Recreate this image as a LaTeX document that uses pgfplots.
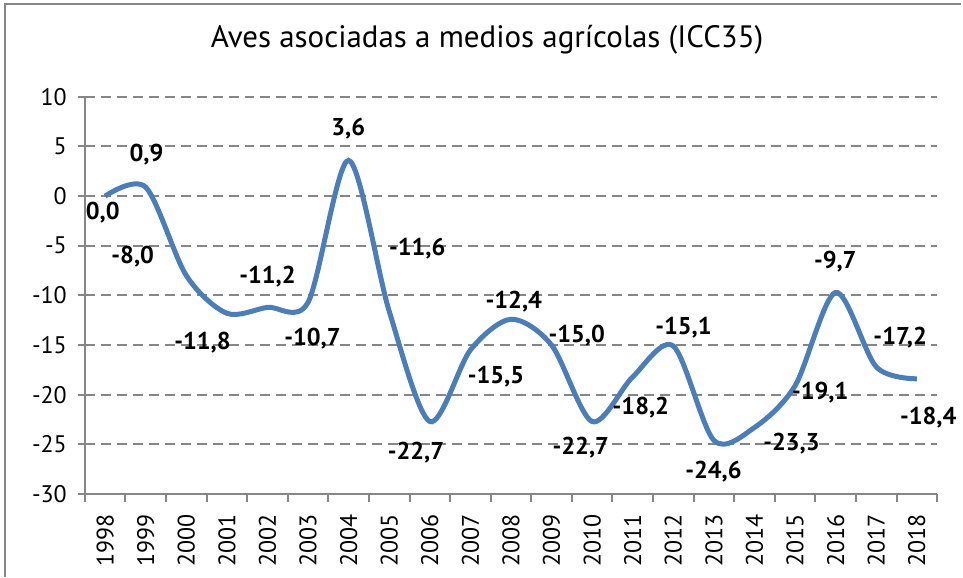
\documentclass[border=0pt]{standalone}
\usepackage{fontspec}
\setmainfont{PT Sans}
\usepackage{pgfplots}
\pgfplotsset{compat=1.18}
\definecolor{linecol}{HTML}{4A7EBB}
\definecolor{gridcol}{HTML}{868686}
\begin{document}
\begin{tikzpicture}[x=1pt,y=1pt]
\fill[white] (0,0) rectangle (481.5,289);
\draw[gridcol, line width=1pt] (2.5,0) -- (2.5,287) -- (481.5,287);
\node[font=\fontsize{15.5}{18}\selectfont] at (244,269) {Aves asociadas a medios agrícolas (ICC35)};
\begin{axis}[
 at={(42.5pt,41.5pt)}, anchor=south west, scale only axis,
 width=427pt, height=199pt,
 xmin=-0.5, xmax=20.5, ymin=-30, ymax=10,
 axis lines=left, axis line style={-, gridcol, line width=1pt},
 ytick={-30,-25,...,10},
 yticklabels={-30,-25,-20,-15,-10,-5,0,5,10},
 xtick={0,...,20},
 xticklabels={1998,1999,2000,2001,2002,2003,2004,2005,2006,2007,2008,2009,2010,2011,2012,2013,2014,2015,2016,2017,2018},
 minor xtick={-0.5,0.5,...,20.5},
 tick align=outside,
 major tick length=3.5pt, minor tick length=4pt,
 major x tick style={draw=none},
 minor x tick style={draw=gridcol, line width=1pt},
 major y tick style={draw=gridcol, line width=1pt},
 ymajorgrids,
 major y grid style={gridcol, line width=1pt, dash pattern=on 5pt off 3pt},
 tick label style={font=\fontsize{12}{14}\selectfont, text=black},
 x tick label style={rotate=90, anchor=east},
 xticklabel shift=3pt,
 yticklabel shift=2pt,
 clip=false,
]
\addplot[linecol, line width=2.5pt, smooth] coordinates {
(0,0.0) (1,0.9) (2,-8.0) (3,-11.8) (4,-11.2) (5,-10.7) (6,3.6) (7,-11.6) (8,-22.7) (9,-15.5) (10,-12.4) (11,-15.0) (12,-22.7) (13,-18.2) (14,-15.1) (15,-24.6) (16,-23.3) (17,-19.1) (18,-9.7) (19,-17.2) (20,-18.4)};
\begin{scope}[every node/.style={font=\bfseries\fontsize{12.2}{14}\selectfont}]
\node at (axis cs:-0.06,-1.66) {0,0};
\node at (axis cs:1.02,4.17) {0,9};
\node at (axis cs:0.68,-6.08) {-8,0};
\node at (axis cs:2.40,-14.72) {-11,8};
\node at (axis cs:4.0,-8.09) {-11,2};
\node at (axis cs:5.11,-14.32) {-10,7};
\node at (axis cs:5.99,6.78) {3,6};
\node at (axis cs:7.69,-5.28) {-11,6};
\node at (axis cs:7.66,-25.78) {-22,7};
\node at (axis cs:9.63,-18.14) {-15,5};
\node at (axis cs:10.07,-10.6) {-12,4};
\node at (axis cs:11.62,-14.02) {-15,0};
\node at (axis cs:11.72,-25.28) {-22,7};
\node at (axis cs:13.2,-21.26) {-18,2};
\node at (axis cs:14.25,-13.22) {-15,1};
\node at (axis cs:14.99,-27.79) {-24,6};
\node at (axis cs:16.91,-24.97) {-23,3};
\node at (axis cs:17.62,-19.75) {-19,1};
\node at (axis cs:17.99,-6.58) {-9,7};
\node at (axis cs:19.59,-14.22) {-17,2};
\node at (axis cs:20.28,-22.26) {-18,4};
\end{scope}
\end{axis}
\end{tikzpicture}
\end{document}
